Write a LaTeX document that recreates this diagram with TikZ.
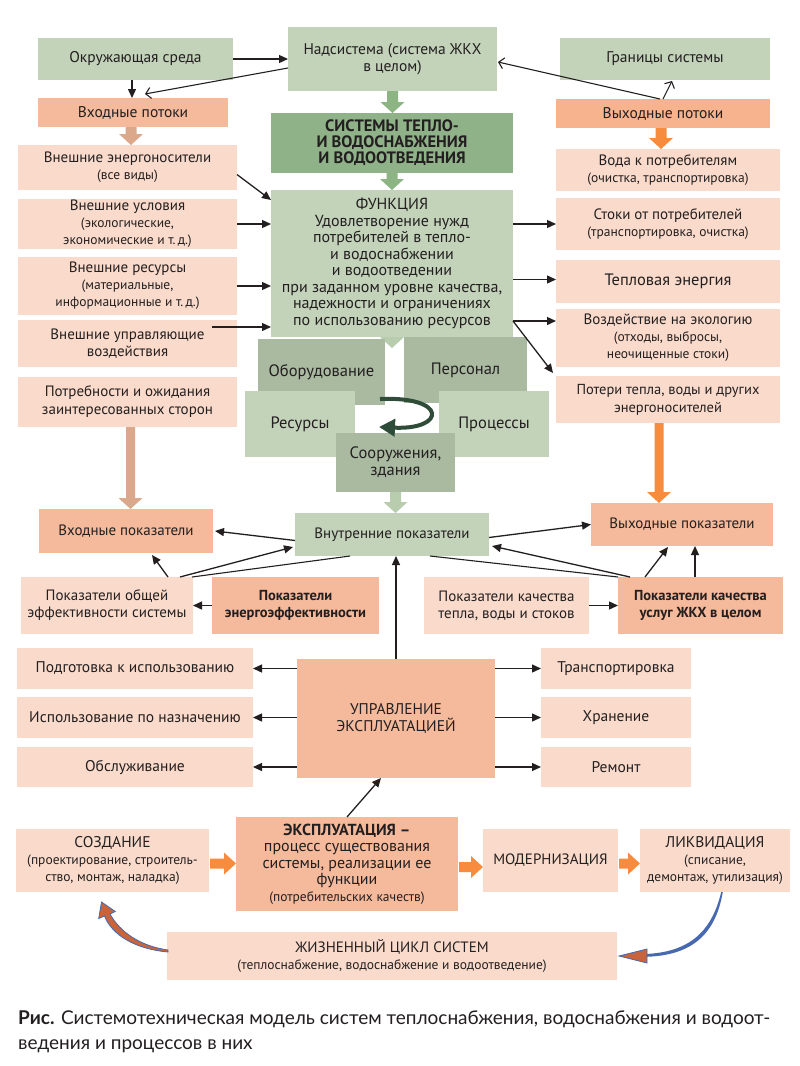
\documentclass[tikz,border=0pt]{standalone}
\usepackage{fontspec}
\setmainfont{PT Sans}
\newfontfamily\capfont{Lato}
\usetikzlibrary{calc}
\usetikzlibrary{arrows.meta}
\definecolor{ink}{RGB}{35,31,32}
\definecolor{sage}{RGB}{195,211,186}
\definecolor{sagedark}{RGB}{143,178,136}
\definecolor{sagegrey}{RGB}{170,186,161}
\definecolor{salmon}{RGB}{245,186,156}
\definecolor{salmondeep}{RGB}{247,178,142}
\definecolor{blush}{RGB}{250,219,203}
\definecolor{tan}{RGB}{219,168,140}
\definecolor{flame}{RGB}{247,140,62}
\definecolor{leaf}{RGB}{46,76,56}
\definecolor{arrowgreen}{RGB}{141,181,131}
\definecolor{arrowpale}{RGB}{184,204,174}
\definecolor{cycleblue}{RGB}{70,105,175}
\definecolor{rust}{RGB}{200,100,60}
\tikzset{
  box/.style={inner sep=1pt, outer sep=0pt, align=center, text=ink,
    font=\fontsize{15}{17}\selectfont},
  dim/.style n args={2}{minimum width=#1pt, minimum height=#2pt},
  big/.style={font=\fontsize{#1}{17}\selectfont},
  link/.style={draw=ink, line width=1.3pt, -{Triangle[length=9pt,width=8pt]}},
  openlink/.style={draw=ink, line width=1.1pt, -{Straight Barb[length=5pt,width=11pt]}},
  plain/.style={draw=ink, line width=1.1pt},
}
\newcommand{\sm}{\fontsize{13.5}{15}\selectfont}
% fat arrow, downwards
\newcommand{\blockdown}[4][5.5]{%
  \path #2 coordinate (bt);
  \path (bt |- #3) coordinate (bh);
  \fill[#4] ($(bt)+(-#1,0)$) -- ($(bh)+(-#1,-11)$) -- ($(bh)+(-12,-11)$) -- (bh)
    -- ($(bh)+(12,-11)$) -- ($(bh)+(#1,-11)$) -- ($(bt)+(#1,0)$) -- cycle;
}
% fat arrow, to the right
\newcommand{\blockright}[3]{%
  \path ($(#1.east)+(1,3)$) coordinate (bt);
  \path (bt -| #2.west) coordinate (bh);
  \fill[#3] ($(bt)+(0,-5)$) -- ($(bh)+(-12,-5)$) -- ($(bh)+(-12,-11)$) -- (bh)
    -- ($(bh)+(-12,11)$) -- ($(bh)+(-12,5)$) -- ($(bt)+(0,5)$) -- cycle;
}

\begin{document}
\begin{tikzpicture}[x=1pt, y=-1pt]
  \useasboundingbox (0,0) rectangle (800,1066);
  \fill[white] (0,0) rectangle (800,1066);

  % top
  \node [box, big=15.5, fill=sage, dim={195}{42}] (env) at (135.5,59) {Окружающая среда};
  \node [box, big=15.5, fill=sage, dim={209}{64}] (super) at (392.5,59) {Надсистема (система ЖКХ\\в целом)};
  \node [box, big=15.5, fill=sage, dim={210}{42}] (bound) at (665,59) {Границы системы};
  \node [box, big=15.5, fill=salmon, dim={190}{29}] (inflow) at (133,112.5) {Входные потоки};
  \node [box, big=15.5, fill=salmondeep, dim={214}{29}] (outflow) at (663,113.5) {Выходные потоки};
  \node [box, fill=sagedark, dim={242}{60}, font=\fontsize{16.5}{16}\selectfont\bfseries] (sys) at (392,143)
    {СИСТЕМЫ ТЕПЛО-\\И ВОДОСНАБЖЕНИЯ\\И ВОДООТВЕДЕНИЯ};
  \node [box, fill=sage, dim={242}{147}, font=\fontsize{16}{16.5}\selectfont] (func) at (392,263.5)
    {ФУНКЦИЯ\\Удовлетворение нужд\\потребителей в тепло-\\и водоснабжении\\и водоотведении\\при заданном уровне качества,\\надежности и ограничениях\\по использованию ресурсов};

  % inputs
  \node [box, fill=blush, dim={219}{45}] (carrier) at (127.5,167.5) {Внешние энергоносители\\\sm (все виды)};
  \node [box, fill=blush, dim={219}{48}] (cond) at (127.5,224) {Внешние условия\\\sm (экологические,\\\sm экономические и т.\,д.)};
  \node [box, fill=blush, dim={219}{58}] (res) at (127.5,286) {Внешние ресурсы\\\sm (материальные,\\\sm информационные и т.\,д.)};
  \node [box, fill=blush, dim={219}{47}] (ctrl) at (127.5,343.5) {Внешние управляющие\\воздействия};
  \node [box, fill=blush, dim={219}{50}, font=\fontsize{15}{18}\selectfont] (needs) at (127.5,402)
    {Потребности и ожидания\\заинтересованных сторон};

  % outputs
  \node [box, fill=blush, dim={224}{42}] (water) at (668,170) {Вода к потребителям\\\sm (очистка, транспортировка)};
  \node [box, fill=blush, dim={224}{52}] (drain) at (668,224) {Стоки от потребителей\\\sm (транспортировка, очистка)};
  \node [box, big=16.5, fill=blush, dim={224}{43}] (heat) at (668,281.5) {Тепловая энергия};
  \node [box, fill=blush, dim={224}{58}] (eco) at (668,338) {Воздействие на экологию\\\sm (отходы, выбросы,\\\sm неочищенные стоки)};
  \node [box, fill=blush, dim={224}{47}, font=\fontsize{14.5}{18}\selectfont] (loss) at (668,399.5)
    {Потери тепла, воды и других\\энергоносителей};

  % elements of the system
  \blockdown{(func.south)}{func.south |- 0,348}{arrowpale}
  \node [box, big=16.5, fill=sagegrey, dim={127}{66}] (equip) at (321.5,372) {Оборудование};
  \node [box, big=16.5, fill=sagegrey, dim={123}{66}] (staff) at (465.5,370) {Персонал};
  \node [box, big=16.5, fill=sage, dim={110}{66}] (rsrc) at (300,424) {Ресурсы};
  \node [box, big=16.5, fill=sage, dim={110}{66}] (proc) at (494,424) {Процессы};
  \node [box, big=16.5, fill=sagegrey, dim={119}{59}] (build) at (395.5,462.5) {Сооружения,\\здания};
  \coordinate (turn a) at (380,399);
  \coordinate (turn b) at (379,427);
  \draw [leaf, line width=4pt, -{Triangle[length=16pt,width=17pt]}]
    (turn a) .. controls (448,396) and (446,430) .. (turn b);

  % indicators
  \node [box, fill=salmon, dim={174}{44}] (inind) at (126,531) {Входные показатели};
  \node [box, fill=sage, dim={194}{43}] (intind) at (392,534.5) {Внутренние показатели};
  \node [box, fill=salmon, dim={182}{43}] (outind) at (682,524.5) {Выходные показатели};
  \node [box, fill=blush, dim={172}{57}] (effsys) at (107,605.5) {Показатели общей\\эффективности системы};
  \node [box, fill=salmon, dim={167}{57}, font=\fontsize{14.5}{17}\selectfont\bfseries] (energ) at (295.5,605.5)
    {Показатели\\энергоэффективности};
  \node [box, fill=blush, dim={165}{57}] (qualtw) at (506.5,605.5) {Показатели качества\\тепла, воды и стоков};
  \node [box, fill=salmon, dim={165}{57}, font=\fontsize{14.5}{17}\selectfont\bfseries] (qualserv) at (700.5,605.5)
    {Показатели качества\\услуг ЖКХ в целом};

  % operation
  \node [box, big=15.5, fill=blush, dim={236}{41}] (prep) at (135,668.5) {Подготовка к использованию};
  \node [box, big=15.5, fill=blush, dim={236}{41}] (use) at (135,717.5) {Использование по назначению};
  \node [box, big=15.5, fill=blush, dim={236}{40}] (serv) at (135,767) {Обслуживание};
  \node [box, big=15.5, fill=salmon, dim={198}{119}] (mgmt) at (396,718.5) {УПРАВЛЕНИЕ\\ЭКСПЛУАТАЦИЕЙ};
  \node [box, big=15.5, fill=blush, dim={150}{41}] (transp) at (616,668.5) {Транспортировка};
  \node [box, big=15.5, fill=blush, dim={150}{41}] (store) at (616,717.5) {Хранение};
  \node [box, big=15.5, fill=blush, dim={150}{40}] (repair) at (616,767) {Ремонт};

  % life cycle
  \node [box, big=15.5, fill=blush, dim={193}{63}] (create) at (112.5,860.5)
    {СОЗДАНИЕ\\\sm (проектирование, строитель-\\\sm ство, монтаж, наладка)};
  \node [box, fill=salmon, dim={222}{94}, font=\fontsize{16}{16.5}\selectfont] (oper) at (347,864)
    {\bfseries ЭКСПЛУАТАЦИЯ --\\процесс существования\\системы, реализации ее\\функции\\\sm (потребительских качеств)};
  \node [box, big=15, fill=blush, dim={135}{63}] (modern) at (550.5,860.5) {МОДЕРНИЗАЦИЯ};
  \node [box, big=15.5, fill=blush, dim={150}{63}] (liquid) at (715,860.5)
    {ЛИКВИДАЦИЯ\\\sm (списание,\\\sm демонтаж, утилизация)};
  \node [box, fill=blush, dim={450}{48}] (life) at (392,956)
    {ЖИЗНЕННЫЙ ЦИКЛ СИСТЕМ\\\sm (теплоснабжение, водоснабжение и водоотведение)};

  % fat arrows
  \blockdown{(super.south)}{sys.north}{arrowgreen}
  \blockdown{(sys.south)}{func.north}{arrowgreen}
  \blockdown{($(inflow.south)+(-2,0)$)}{carrier.north}{tan}
  \blockdown{($(outflow.south)+(-2,0)$)}{water.north}{flame}
  \blockdown[4.5]{($(needs.south)+(3,0)$)}{inind.north}{tan}
  \blockdown[4.5]{($(loss.south)+(-9,0)$)}{outind.north}{flame}
  \blockdown{(build.south)}{intind.north}{arrowpale}
  \blockright{create}{oper}{flame}
  \blockright{oper}{modern}{flame}
  \blockright{modern}{liquid}{flame}

  % environment and flows
  \draw [link] (env) -- (super);
  \draw [link] ($(env.south)+(-3.5,0)$) -- ($(inflow.north)+(-1,0)$);
  \draw [openlink] ($(super.west)+(0,9)$) -- ($(inflow.north)+(12,-4)$);
  \draw [openlink] (outflow.north) -- ($(bound.south)+(7,1)$);
  \draw [openlink] ($(outflow.north)+(-3,0)$) -- ($(super.east)+(1,3)$);

  % into the function
  \draw [link] ($(carrier.east)+(0,7)$) -- ($(func.north west)+(0,10)$);
  \draw [link] (cond.east) -- (func.west |- cond.east);
  \draw [link] (res.east) -- (func.west |- res.east);
  \coordinate (ctrl in) at ($(ctrl.north east)+(-25,7)$);
  \draw [link] (ctrl in) -- (func.west |- ctrl in);

  % out of the function
  \draw [link] (func.east |- drain.west) -- (drain.west);
  \draw [link] ($(func.east |- heat.west)+(0,-2)$) -- ($(heat.west)+(0,-2)$);
  \coordinate (eco in) at ($(eco.north west)+(0,12)$);
  \draw [link] (func.east |- eco in) -- (eco in);
  \draw [link] (func.east |- eco in) -- ($(loss.north west)+(-3,-3)$);

  % indicators
  \draw [link] ($(intind.west)+(0,6)$) -- ($(inind.east)+(2,0)$);
  \draw [link] ($(effsys.north)+(61,0)$) -- ($(inind.south)+(26,2)$);
  \draw [link] ($(effsys.north)+(73,0)$) -- ($(intind.south west)+(-2,-9)$);
  \draw [plain] ($(effsys.north)+(85,0)$) -- ($(intind.south)+(-42,0)$);
  \draw [link] (energ.west) -- (effsys.east);
  \draw [link] (mgmt.north) -- (mgmt.north |- intind.south);
  \draw [link] ($(intind.east)+(0,3)$) -- (outind.west);
  \draw [link] ($(qualserv.north west)+(12,0)$) -- ($(intind.south east)+(3,-10)$);
  \draw [plain] ($(intind.south)+(38,0)$) -- (qualserv.north west);
  \draw [link] ($(qualserv.north west)+(27,0)$) -- ($(outind.south)+(-14,1)$);
  \draw [link] ($(qualserv.north)+(-5.5,0)$) -- ($(outind.south -| qualserv.north)+(-5.5,0)$);
  \draw [link] (qualtw.east) -- (qualserv.west);

  % management
  \foreach \b in {prep,use,serv}
    \draw [link] (mgmt.west |- \b) -- (\b.east);
  \foreach \b in {transp,store,repair}
    \draw [link] (mgmt.east |- \b) -- (\b.west);
  \draw [link] (oper.north) -- ($(mgmt.south)+(-15,0)$);

  % back to creation
  \coordinate (back a) at (168,952);
  \fill [rust, draw=cycleblue, line width=0.8pt] (back a) .. controls (135,949) and (112,935) .. (104.5,916)
    -- (98.7,918.5) -- (101.5,902) -- (115.3,911.5) -- (110,914)
    .. controls (120,932) and (140,946) .. (168,950) -- cycle;
  \coordinate (back b) at (722,892);
  \fill [cycleblue] ($(back b)+(0.8,0)$) .. controls (715,938) and (688,955.5) .. (646,956.8)
    -- (646,954) .. controls (686,952) and (711,935) .. ($(back b)+(-0.8,0)$) -- cycle;
  \filldraw [fill=rust, draw=cycleblue, line width=0.8pt] (647,949) -- (619,956) -- (647,963) -- cycle;

  % caption
  \node [anchor=north west, align=left, inner sep=0pt, text=ink, font=\capfont\fontsize{19}{25}\selectfont] (cap) at (18,1011)
    {{\bfseries Рис.} Системотехническая модель систем теплоснабжения, водоснабжения и водоот-\\ведения и процессов в них};
\end{tikzpicture}
\end{document}
